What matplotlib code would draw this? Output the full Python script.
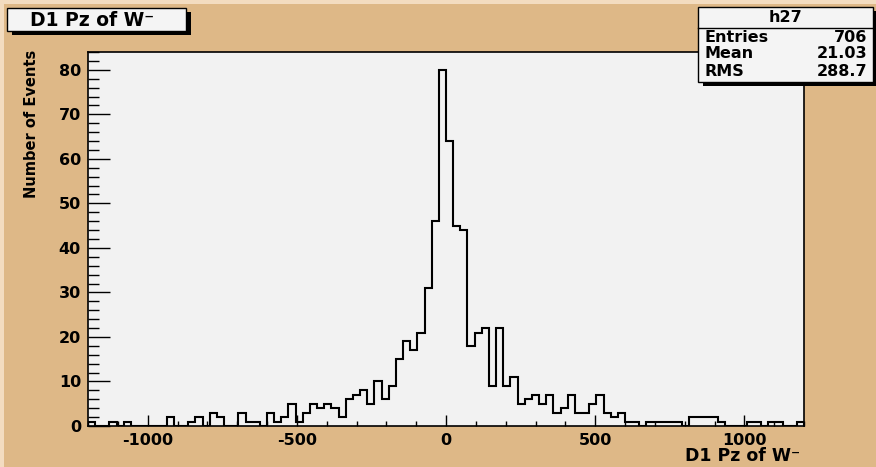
import matplotlib
matplotlib.use("Agg")
import matplotlib.pyplot as plt
import numpy as np
from matplotlib.patches import Rectangle
from matplotlib.lines import Line2D
from matplotlib.ticker import MultipleLocator

# ── Data ──────────────────────────────────────────────────────────────────
n_bins = 100
x_min, x_max = -1200, 1200
counts = [
    1, 0, 0, 1, 0, 1, 0, 0, 0, 0,
    0, 2, 0, 0, 1, 2, 0, 3, 2, 0,
    0, 3, 1, 1, 0, 3, 1, 2, 5, 1,
    3, 5, 4, 5, 4, 2, 6, 7, 8, 5,
    10, 6, 9, 15, 19, 17, 21, 31, 46, 80,
    64, 45, 44, 18, 21, 22, 9, 22, 9, 11,
    5, 6, 7, 5, 7, 3, 4, 7, 3, 3,
    5, 7, 3, 2, 3, 1, 1, 0, 1, 1,
    1, 1, 1, 0, 2, 2, 2, 2, 1, 0,
    0, 0, 1, 1, 0, 1, 1, 0, 0, 1,
]
x_ticks = [-1000, -500, 0, 500, 1000]
y_ticks = [0, 10, 20, 30, 40, 50, 60, 70, 80]
stats_name = "h27"
stats_rows = [("Entries", "706"), ("Mean", "21.03"), ("RMS", "288.7")]

TAN = "#deb887"
FRAME = "#f2f2f2"
BOX = "#f4f4f4"
INK = "black"

W, H = 876, 467


def fx(x):
    return x / W


def fy(y):
    return 1 - y / H


plt.rcParams["font.family"] = "DejaVu Sans"
plt.rcParams["font.weight"] = "bold"

fig = plt.figure(figsize=(W / 100, H / 100), dpi=100, facecolor=TAN)

# canvas bevel (light top/left edge)
fig.add_artist(Rectangle((0, fy(4)), 1, 4 / H, transform=fig.transFigure,
                         facecolor="#f3dcc0", edgecolor="none", zorder=0))
fig.add_artist(Rectangle((0, 0), 4 / W, 1, transform=fig.transFigure,
                         facecolor="#f3dcc0", edgecolor="none", zorder=0))

# ── Frame + histogram ─────────────────────────────────────────────────────
ax = fig.add_axes([fx(88), fy(426), (804 - 88) / W, (426 - 52) / H])
ax.set_facecolor(FRAME)
edges = np.linspace(x_min, x_max, n_bins + 1)
ax.stairs(counts, edges, color=INK, linewidth=1.5, baseline=0)
ax.set_xlim(x_min, x_max)
ax.set_ylim(0, max(counts) * 1.05)

ax.set_xticks(x_ticks)
ax.set_xticklabels([str(t) for t in x_ticks])
ax.set_yticks(y_ticks)
ax.xaxis.set_minor_locator(MultipleLocator(100))
ax.yaxis.set_minor_locator(MultipleLocator(2))
ax.tick_params(axis="x", which="major", direction="in", length=7.7, width=1,
               labelsize=11.5, pad=5)
ax.tick_params(axis="x", which="minor", direction="in", length=3.6, width=1)
ax.tick_params(axis="y", which="major", direction="in", length=15.5, width=1,
               labelsize=11.5, pad=5)
ax.tick_params(axis="y", which="minor", direction="in", length=8.2, width=1)
for lab in ax.get_xticklabels() + ax.get_yticklabels():
    lab.set_fontweight("bold")
for s in ax.spines.values():
    s.set_linewidth(1.2)
    s.set_color(INK)

# axis titles
fig.text(fx(800), fy(456), "D1 Pz of W\u207b", ha="right", va="center",
         fontsize=12.5, fontweight="bold")
fig.text(fx(32), fy(50), "Number of Events", rotation=90, ha="center",
         va="top", fontsize=10.5, fontweight="bold")

# ── Title box ─────────────────────────────────────────────────────────────
tx0, ty0, tx1, ty1 = 7, 8, 186, 31
fig.add_artist(Rectangle((fx(tx0 + 5), fy(ty1 + 4)), (tx1 - tx0) / W,
                         (ty1 - ty0) / H, transform=fig.transFigure,
                         facecolor=INK, edgecolor="none", zorder=5))
fig.add_artist(Rectangle((fx(tx0), fy(ty1)), (tx1 - tx0) / W,
                         (ty1 - ty0) / H, transform=fig.transFigure,
                         facecolor=BOX, edgecolor=INK, linewidth=1, zorder=6))
fig.text(fx((tx0 + tx1) / 2 - 4), fy((ty0 + ty1) / 2 + 1), "D1 Pz of W\u207b",
         ha="center", va="center", fontsize=13.5, fontweight="bold", zorder=7)

# ── Stats box ─────────────────────────────────────────────────────────────
sx0, sy0, sx1, sy1 = 698, 7, 873, 82
fig.add_artist(Rectangle((fx(sx0 + 5), fy(sy1 + 4)), (sx1 - sx0) / W,
                         (sy1 - sy0) / H, transform=fig.transFigure,
                         facecolor=INK, edgecolor="none", zorder=5))
fig.add_artist(Rectangle((fx(sx0), fy(sy1)), (sx1 - sx0) / W,
                         (sy1 - sy0) / H, transform=fig.transFigure,
                         facecolor=BOX, edgecolor=INK, linewidth=1, zorder=6))
fig.add_artist(Line2D([fx(sx0), fx(sx1)], [fy(28), fy(28)],
                      transform=fig.transFigure, color=INK, linewidth=1,
                      zorder=7))
fig.text(fx((sx0 + sx1) / 2), fy(18), stats_name, ha="center", va="center",
         fontsize=11.5, fontweight="bold", zorder=7)
for i, (name, val) in enumerate(stats_rows):
    yy = fy(37 + 17 * i)
    fig.text(fx(sx0 + 7), yy, name, ha="left", va="center", fontsize=11.5,
             fontweight="bold", zorder=7)
    fig.text(fx(sx1 - 6), yy, val, ha="right", va="center", fontsize=11.5,
             fontweight="bold", zorder=7)

fig.savefig("out.png", dpi=100, facecolor=TAN)
